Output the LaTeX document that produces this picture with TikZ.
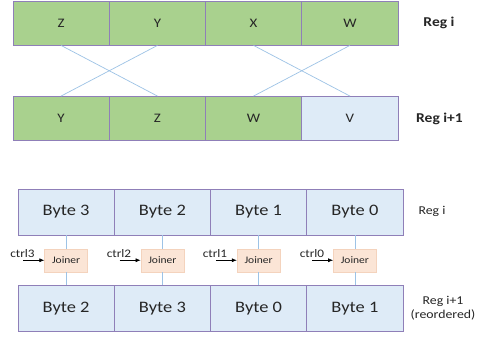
\documentclass[tikz,border=0pt]{standalone}
\usepackage{fontspec}
\setmainfont{Carlito}[FakeStretch=1.15]
\usetikzlibrary{arrows.meta,calc}
\definecolor{cgreen}{HTML}{A9D18E}
\definecolor{cblue}{HTML}{DEEBF7}
\definecolor{cborder}{HTML}{8F7FB8}
\definecolor{cline}{HTML}{9DC3E6}
\definecolor{cjoin}{HTML}{FBE5D6}
\definecolor{cjoinb}{HTML}{F4D3BD}
\definecolor{ctext}{HTML}{262626}
\tikzset{
  cell/.style={draw=cborder, line width=0.9pt, minimum width=96.25pt, inner sep=0pt, text=ctext},
  gcell/.style={cell, fill=cgreen, minimum height=44pt, font=\fontsize{13}{15}\selectfont},
  bcell/.style={cell, fill=cblue, minimum height=44pt, font=\fontsize{13}{15}\selectfont},
  bytecell/.style={cell, fill=cblue, minimum height=46pt, font=\fontsize{16}{19}\selectfont},
  joiner/.style={draw=cjoinb, line width=0.5pt, fill=cjoin, minimum width=43pt, minimum height=23pt, inner sep=0pt, font=\fontsize{10}{12}\selectfont, text=ctext},
  link/.style={draw=cline, line width=0.7pt},
  ctrlarrow/.style={-{Latex[length=5pt,width=4pt]}, line width=0.6pt, black},
  ctrllab/.style={font=\fontsize{11.5}{13}\selectfont, text=ctext, inner sep=0pt, anchor=base},
  reglab/.style={font=\bfseries\fontsize{13.5}{16}\selectfont, text=ctext, inner sep=0pt},
  reglabs/.style={font=\fontsize{12}{14}\selectfont, text=ctext, inner sep=0pt, align=center}
}
\begin{document}
\begin{tikzpicture}[x=1pt,y=-1pt]
\useasboundingbox (0,0) rectangle (480,340);
\fill[white] (0,0) rectangle (480,340);
% top rows
\node[gcell] (z1) at (61.1,23) {Z};
\node[gcell] (y1) at (157.4,23) {Y};
\node[gcell] (x1) at (253.6,23) {X};
\node[gcell] (w1) at (349.9,23) {W};
\node[gcell] (y2) at (61.1,118.5) {Y};
\node[gcell] (z2) at (157.4,118.5) {Z};
\node[gcell] (w2) at (253.6,118.5) {W};
\node[bcell] (v2) at (349.9,118.5) {V};
\node[reglab] (r1) at (439,23) {Reg i};
\node[reglab] (r2) at (439.5,118.5) {Reg i+1};
\draw[link] (z1.south) -- (z2.north);
\draw[link] (y1.south) -- (y2.north);
\draw[link] (x1.south) -- (v2.north);
\draw[link] (w1.south) -- (w2.north);
% bottom rows
\node[bytecell] (a3) at (66.1,212) {Byte 3};
\node[bytecell] (a2) at (162.4,212) {Byte 2};
\node[bytecell] (a1) at (258.6,212) {Byte 1};
\node[bytecell] (a0) at (354.9,212) {Byte 0};
\node[bytecell] (b2) at (66.1,308.5) {Byte 2};
\node[bytecell] (b3) at (162.4,308.5) {Byte 3};
\node[bytecell] (b0) at (258.6,308.5) {Byte 0};
\node[bytecell] (b1) at (354.9,308.5) {Byte 1};
\node[reglabs] (r3) at (432,211) {Reg i};
\node[reglabs] (r4) at (443,308) {Reg i+1\\(reordered)};
\foreach \n/\t/\b in {j3/a3/b2, j2/a2/b3, j1/a1/b0, j0/a0/b1} {
  \node[joiner] (\n) at ($(\t.south)!0.5!(\b.north)$) {Joiner};
  \draw[link] (\t.south) -- (\n.north);
  \draw[link] (\n.south) -- (\b.north);
  \coordinate (s\n) at ([xshift=-21pt]\n.west);
  \draw[ctrlarrow] (s\n) -- (\n.west);
}
\node[ctrllab] (c3) at (22.5,257) {ctrl3};
\node[ctrllab] (c2) at (119,257) {ctrl2};
\node[ctrllab] (c1) at (215,257) {ctrl1};
\node[ctrllab] (c0) at (312,257) {ctrl0};
\end{tikzpicture}
\end{document}
